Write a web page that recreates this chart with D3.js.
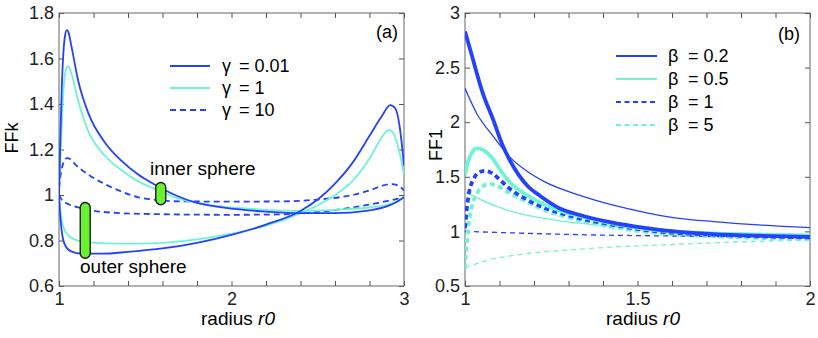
<!DOCTYPE html>
<html>
<head>
<meta charset="utf-8">
<script src="https://cdn.jsdelivr.net/npm/d3@7"></script>
<style>
  body { margin: 0; background: #fff; }
  svg { font-family: "Liberation Sans", Arial, Helvetica, sans-serif; }
</style>
</head>
<body>
<div id="chart"></div>
<script>
// ---- data ----
// panel (a): FFk vs radius r0, inner and outer sphere for each gamma
const gamma001Inner = [[1.0,0.99],[1.008,1.25],[1.016,1.47],[1.025,1.62],[1.035,1.70],[1.045,1.725],[1.055,1.715],[1.073,1.65],[1.112,1.50],[1.17,1.36],[1.267,1.23],[1.363,1.15],[1.459,1.09],[1.557,1.045],[1.672,1.0],[1.8,0.965],[2.0,0.94],[2.2,0.927],[2.4,0.92],[2.6,0.92],[2.78,0.93],[2.9,0.95],[2.96,0.97],[3.0,0.99]];
const gamma001Outer = [[1.0,1.0],[1.005,0.93],[1.016,0.84],[1.035,0.78],[1.07,0.752],[1.13,0.742],[1.25,0.742],[1.4,0.75],[1.6,0.765],[1.8,0.79],[2.0,0.825],[2.2,0.87],[2.4,0.93],[2.5,0.98],[2.6,1.05],[2.7,1.14],[2.8,1.26],[2.87,1.345],[2.92,1.395],[2.95,1.38],[2.975,1.3],[3.0,1.13]];
const gamma1Inner = [[1.0,1.03],[1.01,1.2],[1.02,1.38],[1.03,1.5],[1.045,1.56],[1.055,1.565],[1.07,1.54],[1.09,1.48],[1.12,1.39],[1.17,1.28],[1.27,1.17],[1.36,1.11],[1.46,1.06],[1.56,1.025],[1.67,0.99],[1.8,0.965],[2.0,0.945],[2.2,0.935],[2.4,0.93],[2.6,0.935],[2.8,0.945],[2.92,0.96],[3.0,0.99]];
const gamma1Outer = [[1.0,1.0],[1.01,0.92],[1.025,0.86],[1.05,0.825],[1.09,0.805],[1.17,0.792],[1.35,0.786],[1.6,0.79],[1.8,0.805],[2.0,0.83],[2.2,0.865],[2.4,0.92],[2.5,0.955],[2.6,1.0],[2.7,1.06],[2.8,1.16],[2.86,1.24],[2.91,1.285],[2.94,1.27],[2.97,1.2],[3.0,1.09]];
const gamma10Inner = [[1.0,1.03],[1.01,1.09],[1.025,1.14],[1.045,1.162],[1.06,1.16],[1.1,1.13],[1.17,1.09],[1.26,1.05],[1.363,1.015],[1.46,0.99],[1.557,0.979],[1.7,0.972],[2.0,0.971],[2.3,0.972],[2.5,0.98],[2.7,1.0],[2.8,1.02],[2.88,1.042],[2.93,1.048],[2.97,1.04],[3.0,1.02]];
const gamma10Outer = [[1.0,1.0],[1.02,0.975],[1.054,0.96],[1.1,0.948],[1.17,0.935],[1.363,0.92],[1.557,0.916],[2.0,0.913],[2.3,0.915],[2.5,0.925],[2.7,0.945],[2.85,0.965],[3.0,0.99]];

// panel (b): FF1 vs radius r0, thick and thin curve for each beta
const beta02Thick = [[1.0,2.83],[1.01,2.72],[1.02,2.61],[1.034,2.45],[1.05,2.28],[1.082,2.02],[1.105,1.82],[1.13,1.65],[1.155,1.52],[1.18,1.42],[1.22,1.32],[1.275,1.21],[1.333,1.15],[1.42,1.085],[1.527,1.03],[1.62,0.995],[1.72,0.975],[1.85,0.96],[2.0,0.95]];
const beta02Thin = [[1.0,2.31],[1.034,2.08],[1.082,1.87],[1.13,1.68],[1.18,1.55],[1.227,1.46],[1.333,1.33],[1.43,1.24],[1.527,1.17],[1.62,1.12],[1.72,1.09],[1.85,1.06],[2.0,1.035]];
const beta05Thick = [[1.0,1.52],[1.008,1.63],[1.018,1.71],[1.034,1.76],[1.05,1.75],[1.082,1.66],[1.105,1.55],[1.13,1.45],[1.18,1.33],[1.227,1.25],[1.275,1.19],[1.333,1.14],[1.43,1.07],[1.527,1.02],[1.62,0.995],[1.72,0.98],[1.85,0.97],[2.0,0.96]];
const beta05Thin = [[1.0,1.36],[1.04,1.30],[1.082,1.24],[1.15,1.17],[1.227,1.12],[1.333,1.075],[1.43,1.045],[1.527,1.02],[1.65,1.0],[1.8,0.985],[2.0,0.97]];
const beta1Thick = [[1.0,1.03],[1.005,1.2],[1.012,1.36],[1.025,1.48],[1.04,1.54],[1.058,1.555],[1.08,1.53],[1.105,1.46],[1.13,1.39],[1.18,1.29],[1.227,1.22],[1.275,1.17],[1.333,1.12],[1.43,1.06],[1.527,1.01],[1.62,0.985],[1.72,0.97],[1.85,0.955],[2.0,0.945]];
const beta1Thin = [[1.0,1.0],[1.333,0.97],[1.667,0.955],[2.0,0.94]];
const beta5Thick = [[1.0,0.66],[1.004,0.85],[1.01,1.05],[1.02,1.23],[1.035,1.35],[1.055,1.42],[1.07,1.435],[1.09,1.42],[1.13,1.35],[1.18,1.27],[1.227,1.2],[1.275,1.15],[1.333,1.1],[1.43,1.04],[1.527,0.995],[1.62,0.97],[1.72,0.955],[1.85,0.94],[2.0,0.93]];
const beta5Thin = [[1.0,0.67],[1.03,0.7],[1.07,0.74],[1.13,0.775],[1.2,0.805],[1.3,0.83],[1.45,0.86],[1.6,0.88],[1.8,0.905],[2.0,0.92]];

const xTicksA = [1, 2, 3];
const yTicksA = [0.6, 0.8, 1, 1.2, 1.4, 1.6, 1.8];
const xTicksB = [1, 1.5, 2];
const yTicksB = [0.5, 1, 1.5, 2, 2.5, 3];
const legendA = ['0.01', '1', '10'];
const legendB = ['0.2', '0.5', '1', '5'];

const BLUE = '#2441fb';
const CYAN = '#6ff2d6';
const GREEN = '#6cf032';
const FS = 18;

const svg = d3.select('#chart').append('svg')
  .attr('width', 818)
  .attr('height', 338);

function panel(opts) {
  const { left, right, top, bottom, xDomain, yDomain, xTicks, yTicks, xMinor, yMinor, id } = opts;
  const x = d3.scaleLinear().domain(xDomain).range([left, right]);
  const y = d3.scaleLinear().domain(yDomain).range([bottom, top]);
  const g = svg.append('g');

  g.append('clipPath').attr('id', id)
    .append('rect').attr('x', left).attr('y', top)
    .attr('width', right - left).attr('height', bottom - top);

  const fmt = d => String(d);
  const styleAxis = sel => {
    sel.select('.domain').remove();
    sel.selectAll('.tick line').attr('stroke', '#555');
    sel.selectAll('.tick text').attr('fill', '#222').attr('font-size', FS);
  };

  g.append('g').attr('transform', `translate(0,${bottom})`)
    .call(d3.axisBottom(x).tickValues(xMinor).tickSize(-5).tickPadding(6)
      .tickFormat(d => xTicks.some(t => Math.abs(t - d) < 1e-9) ? fmt(d) : ''))
    .call(styleAxis);
  g.append('g').attr('transform', `translate(0,${top})`)
    .call(d3.axisTop(x).tickValues(xMinor).tickSize(-5).tickFormat(''))
    .call(styleAxis);
  g.append('g').attr('transform', `translate(${left},0)`)
    .call(d3.axisLeft(y).tickValues(yMinor).tickSize(-5).tickPadding(5)
      .tickFormat(d => yTicks.some(t => Math.abs(t - d) < 1e-9) ? fmt(d) : ''))
    .call(styleAxis);
  g.append('g').attr('transform', `translate(${right},0)`)
    .call(d3.axisRight(y).tickValues(yMinor).tickSize(-5).tickFormat(''))
    .call(styleAxis);

  g.append('rect')
    .attr('x', left).attr('y', top)
    .attr('width', right - left).attr('height', bottom - top)
    .attr('fill', 'none').attr('stroke', '#666').attr('stroke-width', 1);

  const line = d3.line().x(d => x(d[0])).y(d => y(d[1])).curve(d3.curveMonotoneX);
  const plot = g.append('g').attr('clip-path', `url(#${id})`);
  const draw = (data, color, width, dash) => plot.append('path')
    .datum(data)
    .attr('fill', 'none')
    .attr('stroke', color)
    .attr('stroke-width', width)
    .attr('stroke-dasharray', dash || null)
    .attr('d', line);

  return { g, x, y, draw };
}

// ---- panel (a) ----
const a = panel({
  id: 'clipA', left: 59, right: 404, top: 13, bottom: 286,
  xDomain: [1, 3], yDomain: [0.6, 1.8],
  xTicks: xTicksA, yTicks: yTicksA,
  xMinor: d3.range(0, 11).map(i => 1 + i * 0.2),
  yMinor: yTicksA
});

a.draw(gamma10Outer, BLUE, 1.8, '6,4');
a.draw(gamma10Inner, BLUE, 1.8, '6,4');
a.draw(gamma1Outer, CYAN, 1.8);
a.draw(gamma1Inner, CYAN, 1.8);
a.draw(gamma001Outer, BLUE, 1.8);
a.draw(gamma001Inner, BLUE, 1.8);

// sphere markers
const marker = (xv, y0, y1) => a.g.append('rect')
  .attr('x', a.x(xv) - 5).attr('y', a.y(y1))
  .attr('width', 10).attr('height', a.y(y0) - a.y(y1))
  .attr('rx', 5).attr('ry', 5)
  .attr('fill', GREEN).attr('stroke', '#111').attr('stroke-width', 1.3);
marker(1.59, 0.957, 1.055);
marker(1.152, 0.722, 0.967);

a.g.append('text').attr('x', 150).attr('y', 175).attr('font-size', 19).text('inner sphere');
a.g.append('text').attr('x', 80).attr('y', 273).attr('font-size', 19).text('outer sphere');
a.g.append('text').attr('x', 398).attr('y', 38).attr('font-size', FS).attr('text-anchor', 'end').text('(a)');

const legA = [
  { label: legendA[0], color: BLUE, dash: null },
  { label: legendA[1], color: CYAN, dash: null },
  { label: legendA[2], color: BLUE, dash: '6,4' }
];
legA.forEach((d, i) => {
  const yy = 66 + i * 22;
  a.g.append('line').attr('x1', 170).attr('x2', 210).attr('y1', yy).attr('y2', yy)
    .attr('stroke', d.color).attr('stroke-width', 1.8).attr('stroke-dasharray', d.dash);
  a.g.append('text').attr('x', 222).attr('y', yy + 6).attr('font-size', FS).text('γ');
  a.g.append('text').attr('x', 239).attr('y', yy + 6).attr('font-size', FS).text('= ' + d.label);
});

a.g.append('text')
  .attr('transform', 'translate(18,138) rotate(-90)')
  .attr('text-anchor', 'middle').attr('font-size', FS).text('FFk');
const tA = a.g.append('text').attr('x', 238).attr('y', 325).attr('text-anchor', 'middle').attr('font-size', 19);
tA.append('tspan').text('radius ');
tA.append('tspan').attr('font-style', 'italic').text('r0');

// ---- panel (b) ----
const b = panel({
  id: 'clipB', left: 465, right: 810, top: 13, bottom: 286,
  xDomain: [1, 2], yDomain: [0.5, 3],
  xTicks: xTicksB, yTicks: yTicksB,
  xMinor: d3.range(0, 11).map(i => 1 + i * 0.1),
  yMinor: yTicksB
});

b.draw(beta5Thin, CYAN, 1.3, '5,4');
b.draw(beta1Thin, BLUE, 1.3, '5,4');
b.draw(beta05Thin, CYAN, 1.3);
b.draw(beta02Thin, BLUE, 1.3);
b.draw(beta5Thick, CYAN, 3.8, '5,3.5');
b.draw(beta1Thick, BLUE, 3.8, '5,3.5');
b.draw(beta05Thick, CYAN, 3.8);
b.draw(beta02Thick, BLUE, 3.8);

b.g.append('text').attr('x', 800).attr('y', 40).attr('font-size', FS).attr('text-anchor', 'end').text('(b)');

const legB = [
  { label: legendB[0], color: BLUE, dash: null },
  { label: legendB[1], color: CYAN, dash: null },
  { label: legendB[2], color: BLUE, dash: '5,3.5' },
  { label: legendB[3], color: CYAN, dash: '5,3.5' }
];
legB.forEach((d, i) => {
  const yy = 56 + i * 23;
  b.g.append('line').attr('x1', 616).attr('x2', 657).attr('y1', yy).attr('y2', yy)
    .attr('stroke', d.color).attr('stroke-width', 2).attr('stroke-dasharray', d.dash);
  b.g.append('text').attr('x', 668).attr('y', yy + 6).attr('font-size', FS).text('β');
  b.g.append('text').attr('x', 688).attr('y', yy + 6).attr('font-size', FS).text('= ' + d.label);
});

b.g.append('text')
  .attr('transform', 'translate(442,145) rotate(-90)')
  .attr('text-anchor', 'middle').attr('font-size', FS).text('FF1');
const tB = b.g.append('text').attr('x', 643).attr('y', 325).attr('text-anchor', 'middle').attr('font-size', 19);
tB.append('tspan').text('radius ');
tB.append('tspan').attr('font-style', 'italic').text('r0');
</script>
</body>
</html>
